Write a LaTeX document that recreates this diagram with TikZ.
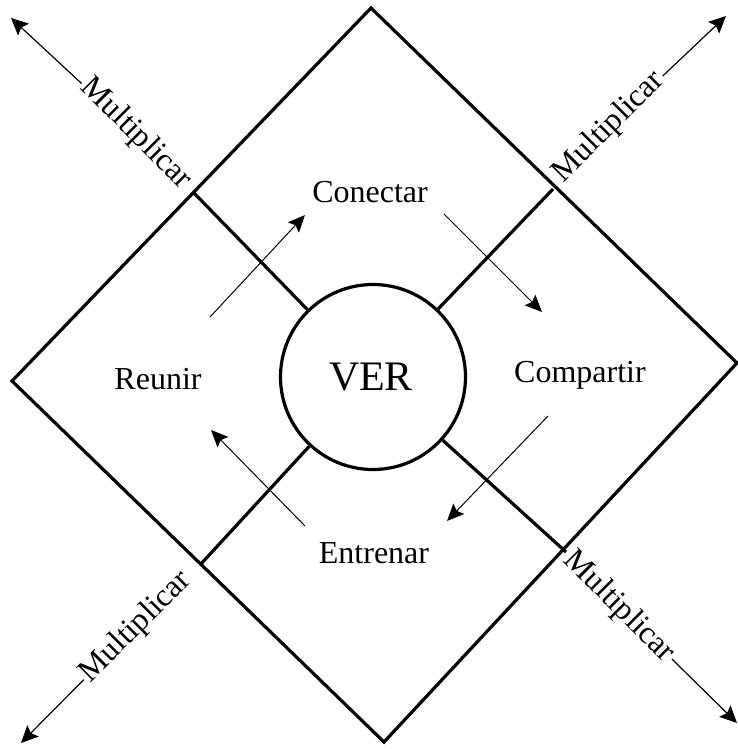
\documentclass[tikz,border=0pt]{standalone}
\usepackage{fontspec}
\setmainfont{Liberation Serif}
\usetikzlibrary{arrows.meta}
\begin{document}
\begin{tikzpicture}[x=1pt,y=-1pt,
  thickline/.style={line width=3.2pt, line join=miter},
  lbl/.style={font=\fontsize{32}{38}\selectfont, inner sep=0pt, anchor=base},
  flow/.style={line width=1pt, -{Stealth[length=17pt,width=15pt,inset=3pt]}},
  outflow/.style={line width=1.2pt, -{Stealth[length=17pt,width=16pt,inset=3pt]}},
  mult/.style={font=\fontsize{32}{38}\selectfont, inner sep=2pt},
]
\useasboundingbox (0,0) rectangle (738,749);
% diamond corners
\coordinate (T) at (371,8);
\coordinate (R) at (737,363);
\coordinate (B) at (384,742);
\coordinate (L) at (12,381);
\draw[thickline] (T) -- (R) -- (B) -- (L) -- cycle;
% centre circle
\node[circle, draw, line width=3.2pt, minimum size=185pt, inner sep=0pt,
      font=\fontsize{42}{48}\selectfont] (VER) at (373,377) {};
\node[lbl, font=\fontsize{42}{48}\selectfont] (vertxt) at (371,390) {VER};
% edge mid points
\coordinate (mUL) at (193,192);
\coordinate (mUR) at (553,189);
\coordinate (mLR) at (566,552);
\coordinate (mLL) at (200,565);
\draw[thickline] (mUL) -- (VER);
\draw[thickline] (mUR) -- (VER);
\draw[thickline] (mLR) -- (VER);
\draw[thickline] (mLL) -- (VER);
% quadrant labels
\node[lbl] (con) at (370,202) {Conectar};
\node[lbl] (reu) at (158,389) {Reunir};
\node[lbl] (com) at (580,382) {Compartir};
\node[lbl] (ent) at (374,563) {Entrenar};
% inner cycle arrows
\coordinate (a1s) at (210,317);
\coordinate (a1e) at (305,215);
\coordinate (a2s) at (444,214);
\coordinate (a2e) at (542,312);
\coordinate (a3s) at (548,416);
\coordinate (a3e) at (447,521);
\coordinate (a4s) at (305,526);
\coordinate (a4e) at (211,430);
\draw[flow] (a1s) -- (a1e);
\draw[flow] (a2s) -- (a2e);
\draw[flow] (a3s) -- (a3e);
\draw[flow] (a4s) -- (a4e);
% Multiplicar labels
\node[mult, rotate=-45] (mTL) at (136,134) {Multiplicar};
\node[mult, rotate=45] (mTR) at (609,127) {Multiplicar};
\node[mult, rotate=-45] (mBR) at (619,607) {Multiplicar};
\node[mult, rotate=45] (mBL) at (136,627) {Multiplicar};
\coordinate (tTL) at (11,18);
\coordinate (tTR) at (726,16);
\coordinate (tBR) at (737,723);
\coordinate (tBL) at (21,743);
\draw[outflow] (mTL) -- (tTL);
\draw[outflow] (mTR) -- (tTR);
\draw[outflow] (mBR) -- (tBR);
\draw[outflow] (mBL) -- (tBL);
\end{tikzpicture}
\end{document}
